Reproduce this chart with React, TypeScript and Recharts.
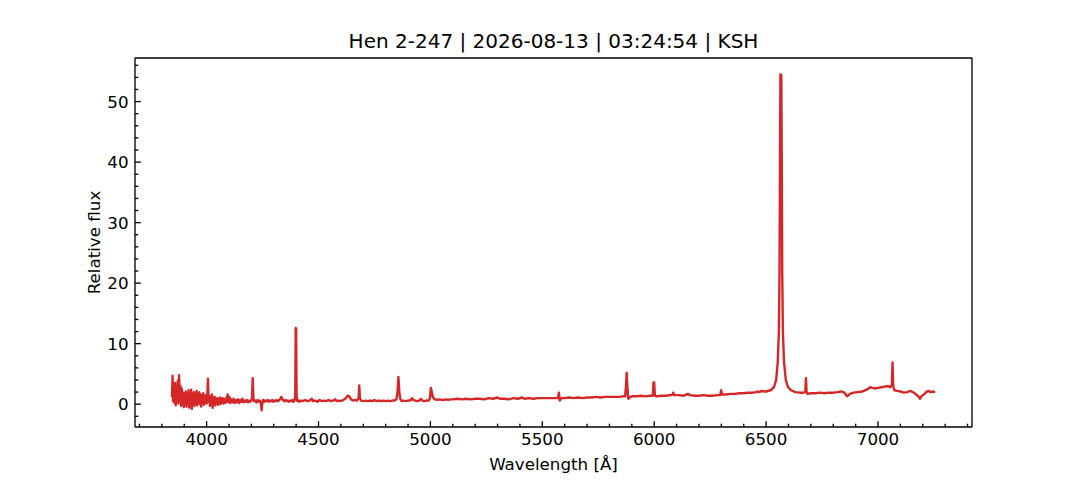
import React from "react";
import { LineChart, Line, XAxis, YAxis } from "recharts";

const TITLE = "Hen 2-247 | 2026-08-13 | 03:24:54 | KSH";
const X_LABEL = "Wavelength [Å]";
const Y_LABEL = "Relative flux";

const xMajorTicks = [4000, 4500, 5000, 5500, 6000, 6500, 7000];
const xAllTicks = [
  3700, 3800, 3900, 4000, 4100, 4200, 4300, 4400, 4500, 4600, 4700, 4800, 4900, 5000,
  5100, 5200, 5300, 5400, 5500, 5600, 5700, 5800, 5900, 6000, 6100, 6200, 6300, 6400,
  6500, 6600, 6700, 6800, 6900, 7000, 7100, 7200, 7300, 7400,
];
const yMajorTicks = [0, 10, 20, 30, 40, 50];
const yAllTicks = [
  -2, 0, 2, 4, 6, 8, 10, 12, 14, 16, 18, 20, 22, 24, 26, 28, 30, 32, 34, 36, 38, 40,
  42, 44, 46, 48, 50, 52, 54, 56,
];

const wavelengths = [
  3845, 3848, 3850, 3853, 3856, 3859, 3862, 3865, 3868, 3871,
  3874, 3877, 3880, 3883, 3886, 3889, 3892, 3895, 3898, 3901,
  3904, 3907, 3910, 3913, 3916, 3919, 3922, 3925, 3928, 3931,
  3934, 3937, 3940, 3943, 3946, 3949, 3952, 3955, 3958, 3961,
  3964, 3967, 3970, 3973, 3976, 3979, 3982, 3985, 3988, 3991,
  3994, 3997, 4000, 4003, 4006, 4009, 4012, 4015, 4018, 4021,
  4024, 4027, 4030, 4033, 4036, 4039, 4042, 4045, 4048, 4051,
  4054, 4057, 4060, 4063, 4066, 4069, 4072, 4075, 4078, 4081,
  4084, 4087, 4090, 4094, 4098, 4102, 4106, 4110, 4115, 4120,
  4125, 4130, 4135, 4140, 4145, 4150, 4155, 4160, 4165, 4170,
  4175, 4180, 4185, 4190, 4195, 4200, 4203, 4206, 4209, 4212,
  4217, 4222, 4227, 4232, 4237, 4242, 4246, 4249, 4253, 4258,
  4263, 4268, 4273, 4278, 4283, 4288, 4293, 4298, 4303, 4308,
  4313, 4318, 4323, 4328, 4334, 4338, 4343, 4348, 4353, 4358,
  4363, 4368, 4373, 4378, 4383, 4388, 4393, 4396, 4398, 4400,
  4402, 4405, 4410, 4415, 4420, 4430, 4440, 4450, 4460, 4470,
  4475, 4485, 4495, 4505, 4515, 4525, 4535, 4545, 4555, 4565,
  4575, 4580, 4590, 4600, 4610, 4620, 4630, 4638, 4645, 4655,
  4665, 4672, 4679, 4682, 4685, 4690, 4700, 4710, 4720, 4730,
  4740, 4750, 4760, 4770, 4780, 4790, 4800, 4810, 4820, 4830,
  4840, 4848, 4853, 4857, 4861, 4866, 4872, 4880, 4890, 4900,
  4910, 4918, 4924, 4932, 4942, 4950, 4958, 4964, 4972, 4982,
  4992, 4998, 5002, 5006, 5011, 5016, 5022, 5030, 5040, 5050,
  5060, 5070, 5080, 5090, 5100, 5120, 5140, 5160, 5180, 5200,
  5220, 5240, 5260, 5280, 5300, 5310, 5330, 5350, 5370, 5390,
  5410, 5420, 5440, 5460, 5480, 5500, 5520, 5540, 5560, 5570,
  5574, 5578, 5585, 5600, 5620, 5640, 5660, 5680, 5700, 5720,
  5740, 5760, 5780, 5800, 5820, 5840, 5860, 5870, 5874, 5877,
  5880, 5884, 5890, 5900, 5920, 5940, 5960, 5980, 5994, 5997,
  6000, 6003, 6010, 6030, 6050, 6070, 6080, 6085, 6090, 6110,
  6130, 6145, 6150, 6160, 6180, 6200, 6220, 6240, 6260, 6280,
  6295, 6299, 6303, 6320, 6340, 6360, 6380, 6400, 6420, 6440,
  6455, 6460, 6470, 6480, 6490, 6500, 6520, 6535, 6545, 6552,
  6557, 6560, 6562, 6564, 6568, 6570, 6572, 6575, 6580, 6588,
  6598, 6612, 6630, 6650, 6665, 6675, 6678, 6681, 6685, 6700,
  6720, 6740, 6760, 6780, 6800, 6820, 6835, 6850, 6862, 6875,
  6890, 6910, 6930, 6950, 6965, 6975, 6985, 7000, 7015, 7030,
  7045, 7055, 7062, 7065, 7068, 7073, 7085, 7100, 7115, 7130,
  7145, 7160, 7170, 7180, 7188, 7196, 7205, 7215, 7225, 7235,
  7245, 7255,
];

const flux = [
  1.2, 4.7, 0.5, 2.8, 0.2, 3.5, -0.2, 2.2, 0.4, 3.9,
  0.1, 4.8, 0.6, 3.0, -0.3, 2.6, 0.3, 1.9, -0.5, 1.7,
  0.2, 2.1, -0.4, 1.5, 0.1, 2.3, -0.6, 1.8, 0.0, 2.4,
  -0.8, 1.6, 0.2, 2.0, -0.3, 1.4, 0.4, 2.2, -0.2, 1.7,
  0.3, 2.0, 0.0, 1.6, -0.4, 1.5, 0.2, 1.8, -0.1, 1.3,
  0.3, 1.5, 0.1, 1.2, 4.2, 0.4, 1.4, -0.3, 1.1, 0.2,
  1.6, -0.6, 1.0, 0.3, 1.2, -0.2, 0.9, 0.1, 1.0, -0.1,
  0.8, 0.2, 1.1, 0.0, 0.9, 0.3, 1.0, 0.1, 0.8, 0.2,
  0.9, 0.3, 1.0, 1.6, 0.3, 1.2, 0.2, 0.8, 0.3, 0.9,
  0.2, 0.7, 0.3, 0.8, 0.2, 0.7, 0.4, 0.9, 0.3, 0.6,
  0.4, 0.7, 0.3, 0.6, 0.4, 0.6, 1.2, 4.3, 1.0, 0.5,
  0.6, 0.3, 0.7, 0.4, 0.6, 0.2, -1.0, 0.3, 0.7, 0.4,
  0.6, 0.5, 0.7, 0.4, 0.6, 0.5, 0.7, 0.4, 0.6, 0.5,
  0.7, 0.5, 0.6, 0.8, 1.2, 0.9, 0.6, 0.5, 0.7, 0.5,
  0.6, 0.4, 0.6, 0.5, 0.7, 0.4, 0.6, 1.5, 12.6, 12.5,
  1.5, 0.5, 0.6, 0.4, 0.6, 0.5, 0.7, 0.5, 0.6, 0.9,
  0.5, 0.6, 0.4, 0.7, 0.5, 0.6, 0.5, 0.7, 0.5, 0.6,
  0.8, 0.5, 0.6, 0.5, 0.7, 0.9, 1.4, 1.3, 0.8, 0.6,
  0.7, 0.6, 1.0, 3.1, 1.0, 0.6, 0.5, 0.6, 0.5, 0.6,
  0.5, 0.7, 0.5, 0.6, 0.5, 0.6, 0.5, 0.6, 0.5, 0.6,
  0.6, 0.8, 2.0, 4.5, 2.0, 0.8, 0.5, 0.6, 0.5, 0.6,
  0.6, 1.0, 0.7, 0.6, 0.5, 0.6, 0.9, 0.6, 0.5, 0.6,
  0.6, 1.0, 2.7, 2.0, 1.2, 0.9, 0.8, 0.7, 0.8, 0.7,
  0.7, 0.8, 0.7, 0.8, 0.8, 0.9, 0.8, 0.9, 0.8, 0.9,
  0.9, 0.8, 1.0, 0.9, 1.1, 0.9, 0.9, 0.8, 1.0, 0.9,
  1.1, 0.9, 1.0, 0.9, 1.0, 1.0, 1.0, 1.0, 1.0, 1.0,
  1.9, 0.6, 1.0, 1.0, 1.1, 1.0, 1.1, 1.0, 1.1, 1.1,
  1.2, 1.1, 1.2, 1.2, 1.2, 1.2, 1.3, 1.3, 3.0, 5.2,
  3.0, 0.9, 1.1, 1.3, 1.3, 1.4, 1.3, 1.4, 1.4, 3.6,
  3.6, 1.4, 1.3, 1.4, 1.4, 1.5, 1.5, 1.9, 1.5, 1.5,
  1.4, 1.6, 1.7, 1.5, 1.4, 1.4, 1.5, 1.4, 1.4, 1.5,
  1.5, 2.3, 1.6, 1.6, 1.7, 1.7, 1.8, 1.8, 1.9, 1.9,
  2.0, 2.1, 2.0, 2.2, 2.1, 2.1, 2.3, 2.8, 4.0, 7.0,
  12.0, 22.0, 40.0, 54.5, 54.4, 40.0, 22.0, 12.0, 7.0, 4.0,
  2.8, 2.3, 2.0, 1.9, 1.9, 2.0, 4.3, 2.0, 1.7, 1.8,
  1.8, 1.9, 1.8, 1.9, 1.9, 2.0, 2.1, 1.9, 1.3, 1.7,
  1.9, 2.0, 2.1, 2.4, 2.8, 2.7, 2.6, 2.7, 2.8, 2.9,
  3.0, 2.8, 3.2, 6.9, 3.0, 2.3, 2.2, 2.1, 1.9, 2.0,
  2.2, 1.9, 1.6, 1.3, 0.9, 1.4, 1.6, 2.0, 2.2, 2.0,
  2.1, 2.0,
];

const data = wavelengths.map((w, i) => ({ w, f: flux[i] }));

const FONT = "'DejaVu Sans', 'Liberation Sans', sans-serif";
const TICK_FS = 16.7;
const LABEL_FS = 16.7;
const TITLE_FS = 20;
const MAJOR = 5.8;
const MINOR = 3.3;
const AXIS_W = 1.33;

const XTick = (props: any) => {
  const { x, y, payload } = props;
  const v = payload.value;
  const major = xMajorTicks.includes(v);
  return (
    <g>
      <line x1={x} y1={y} x2={x} y2={y - (major ? MAJOR : MINOR)} stroke="#000" strokeWidth={AXIS_W} />
      {major && (
        <text x={x} y={y + 17.5} textAnchor="middle" fontFamily={FONT} fontSize={TICK_FS} fill="#000">
          {v}
        </text>
      )}
    </g>
  );
};

const YTick = (props: any) => {
  const { x, y, payload } = props;
  const v = payload.value;
  const major = yMajorTicks.includes(v);
  return (
    <g>
      <line x1={x} y1={y} x2={x + (major ? MAJOR : MINOR)} y2={y} stroke="#000" strokeWidth={AXIS_W} />
      {major && (
        <text x={x - 6.5} y={y + 6} textAnchor="end" fontFamily={FONT} fontSize={TICK_FS} fill="#000">
          {v}
        </text>
      )}
    </g>
  );
};

export default function App() {
  return (
    <div style={{ position: "absolute", left: 0, top: 0, width: 1080, height: 480, background: "#fff" }}>
      <LineChart
        width={1080}
        height={480}
        data={data}
        margin={{ top: 57, right: 107, bottom: 13, left: 75 }}
      >
        <XAxis
          dataKey="w"
          type="number"
          domain={[3680, 7420]}
          ticks={xAllTicks}
          interval={0}
          allowDataOverflow
          height={40}
          tickSize={0}
          tickMargin={0}
          tickLine={false}
          axisLine={{ stroke: "#000", strokeWidth: AXIS_W }}
          tick={<XTick />}
        />
        <XAxis
          xAxisId="top"
          dataKey="w"
          type="number"
          domain={[3680, 7420]}
          orientation="top"
          height={1}
          tick={false}
          tickLine={false}
          axisLine={{ stroke: "#000", strokeWidth: AXIS_W }}
        />
        <YAxis
          type="number"
          domain={[-3.77, 57.2]}
          ticks={yAllTicks}
          interval={0}
          allowDataOverflow
          width={60}
          tickSize={0}
          tickMargin={0}
          tickLine={false}
          axisLine={{ stroke: "#000", strokeWidth: AXIS_W }}
          tick={<YTick />}
        />
        <YAxis
          yAxisId="right"
          type="number"
          domain={[-3.77, 57.2]}
          orientation="right"
          width={1}
          tick={false}
          tickLine={false}
          axisLine={{ stroke: "#000", strokeWidth: AXIS_W }}
        />
        <Line
          type="linear"
          dataKey="f"
          stroke="#d62728"
          strokeWidth={2.4}
          strokeLinejoin="round"
          dot={false}
          activeDot={false}
          isAnimationActive={false}
        />
      </LineChart>
      <svg
        width={1080}
        height={480}
        style={{ position: "absolute", left: 0, top: 0, pointerEvents: "none" }}
      >
        <text x={553.5} y={48} textAnchor="middle" fontFamily={FONT} fontSize={TITLE_FS} fill="#000">
          {TITLE}
        </text>
        <text x={553.5} y={470} textAnchor="middle" fontFamily={FONT} fontSize={LABEL_FS} fill="#000">
          {X_LABEL}
        </text>
        <text
          x={0}
          y={0}
          transform="translate(99.5 242.5) rotate(-90)"
          textAnchor="middle"
          fontFamily={FONT}
          fontSize={LABEL_FS}
          fill="#000"
        >
          {Y_LABEL}
        </text>
      </svg>
    </div>
  );
}
